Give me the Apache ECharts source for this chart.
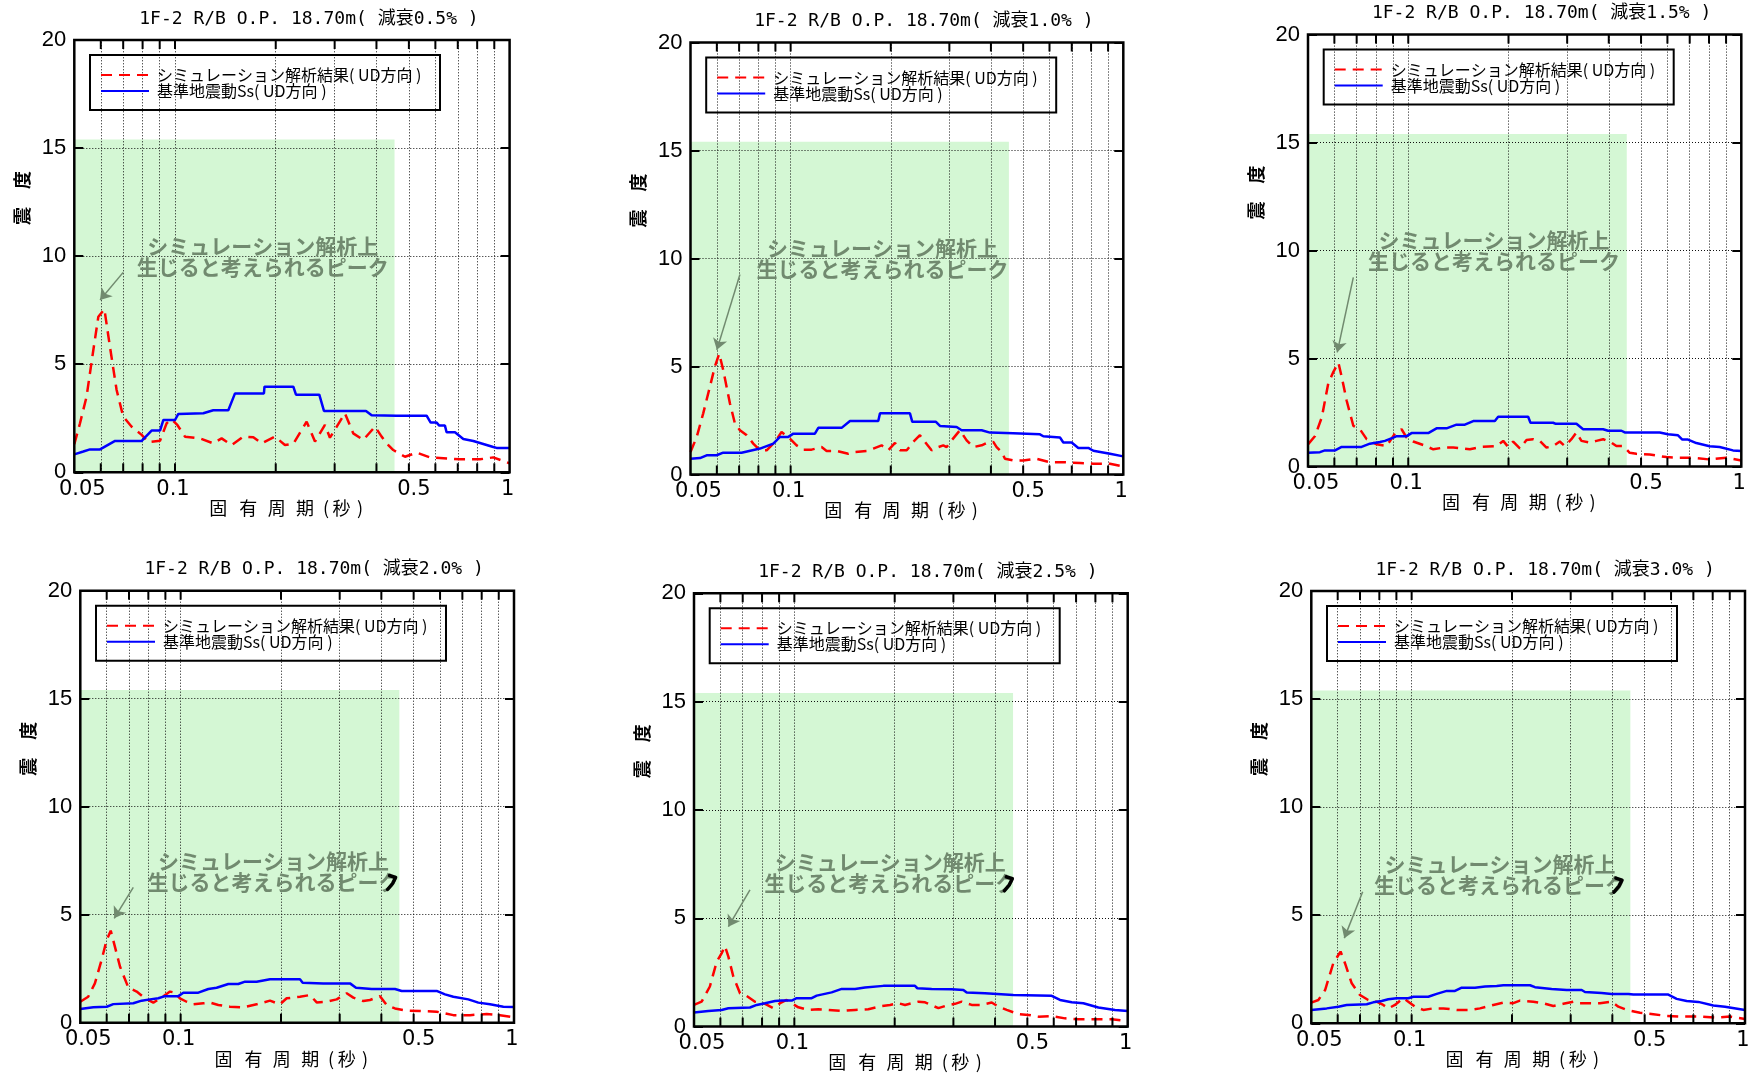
<!DOCTYPE html>
<html><head><meta charset="utf-8">
<script src="https://cdn.jsdelivr.net/npm/echarts@6/dist/echarts.min.js"></script>
<style>html,body{margin:0;padding:0;background:#fff}#c{width:1749px;height:1075px}</style>
</head><body><div id="c"></div>
<script>
// ---------------- data ----------------
const dampings = ['0.5', '1.0', '1.5', '2.0', '2.5', '3.0'];
const simName = 'シミュレーション解析結果( UD方向 )';
const ssName = '基準地震動Ss( UD方向 )';
const xTickLabels = [0.05, 0.1, 0.5, 1];
const xTickLabelText = ['0.05', '0.1', '0.5', '1'];
const xGridTicks = [0.06, 0.07, 0.08, 0.09, 0.1, 0.2, 0.3, 0.4, 0.5, 0.6, 0.7, 0.8, 0.9];
const yGridTicks = [5, 10, 15];
const greenBandPeriod = [0.05, 0.453];
const greenBandTop = 15.4;

const sim05 = [[0.05,1.3],[0.052,2.27],[0.0544,3.5],[0.057,5.66],[0.059,7.2],[0.0615,7.55],[0.0639,5.81],[0.0669,3.81],[0.070,2.58],[0.0742,2.11],[0.0795,1.73],[0.0832,1.40],[0.0902,1.46],[0.0944,2.27],[0.0977,2.45],[0.1016,2.19],[0.1071,1.65],[0.1187,1.57],[0.1301,1.34],[0.1378,1.57],[0.1476,1.26],[0.16,1.65],[0.1714,1.62],[0.1815,1.34],[0.1989,1.65],[0.2131,1.26],[0.2257,1.32],[0.2474,2.34],[0.262,1.42],[0.2806,2.19],[0.2904,1.6],[0.322,2.73],[0.3409,1.8],[0.3654,1.5],[0.396,2.11],[0.4145,1.65],[0.434,1.26],[0.4492,1.03],[0.4867,0.72],[0.5275,0.91],[0.5781,0.69],[0.7107,0.6],[0.8153,0.6],[0.8937,0.69],[1.0,0.42]];
const ss05 = [[0.05,0.83],[0.0532,0.96],[0.0557,1.06],[0.0597,1.06],[0.0662,1.45],[0.0795,1.45],[0.0851,1.93],[0.0902,1.93],[0.0923,2.42],[0.100,2.42],[0.1023,2.70],[0.1215,2.73],[0.1301,2.87],[0.1443,2.87],[0.1511,3.65],[0.1844,3.65],[0.1851,3.96],[0.2257,3.96],[0.2299,3.59],[0.2699,3.59],[0.2787,2.84],[0.3722,2.84],[0.3870,2.64],[0.4596,2.62],[0.5649,2.62],[0.5808,2.30],[0.6052,2.30],[0.6163,2.16],[0.6408,2.16],[0.6482,1.85],[0.6866,1.85],[0.7272,1.54],[0.7791,1.45],[0.8937,1.17],[0.9145,1.13],[1.0,1.13]];

const sim10 = [[0.05,1.04],[0.0522,1.74],[0.0546,2.83],[0.0572,4.07],[0.0592,5.0],[0.061,5.59],[0.0627,4.84],[0.0657,3.29],[0.068,2.36],[0.0704,2.05],[0.0738,1.82],[0.0772,1.43],[0.0809,1.12],[0.0847,1.12],[0.0897,1.51],[0.0939,1.97],[0.0995,1.66],[0.1042,1.35],[0.1092,1.15],[0.1156,1.15],[0.1239,1.27],[0.1283,1.09],[0.1375,1.09],[0.149,0.96],[0.1561,1.04],[0.1693,1.09],[0.1772,1.2],[0.1877,1.35],[0.1966,1.12],[0.2059,1.46],[0.2132,1.12],[0.2233,1.12],[0.2337,1.51],[0.2447,1.82],[0.2533,1.51],[0.2653,1.12],[0.2779,1.27],[0.2876,1.35],[0.2944,1.27],[0.3048,1.58],[0.3228,2.05],[0.3381,1.58],[0.354,1.27],[0.3752,1.35],[0.3883,1.46],[0.4066,1.51],[0.4161,1.27],[0.4308,1.04],[0.4408,0.73],[0.467,0.65],[0.5003,0.65],[0.5489,0.73],[0.602,0.57],[0.6602,0.57],[0.741,0.53],[0.8124,0.5],[0.9118,0.5],[1.0,0.37]];
const ss10 = [[0.05,0.73],[0.0534,0.76],[0.0559,0.89],[0.0599,0.89],[0.0627,1.01],[0.0712,1.01],[0.0809,1.2],[0.0887,1.43],[0.0929,1.74],[0.0984,1.74],[0.1019,1.89],[0.1183,1.89],[0.1211,2.16],[0.1423,2.16],[0.1508,2.48],[0.1834,2.48],[0.1856,2.83],[0.2284,2.83],[0.2321,2.44],[0.2734,2.44],[0.2811,2.25],[0.3155,2.2],[0.3266,2.05],[0.3752,2.05],[0.3974,1.94],[0.467,1.91],[0.5617,1.86],[0.5748,1.77],[0.6452,1.71],[0.6602,1.48],[0.6995,1.48],[0.7324,1.23],[0.785,1.23],[0.8124,1.1],[0.9118,0.96],[1.0,0.84]];

const sim15 = [[0.05,1.03],[0.0525,1.42],[0.055,2.28],[0.0575,3.84],[0.0596,4.39],[0.0617,4.81],[0.0631,4.16],[0.0653,3.06],[0.0684,1.89],[0.0716,1.73],[0.075,1.27],[0.0804,1.03],[0.0861,0.95],[0.0912,1.53],[0.0955,1.73],[0.0989,1.34],[0.1035,1.16],[0.1109,1.0],[0.1189,0.8],[0.1274,0.88],[0.1365,0.88],[0.1531,0.8],[0.166,0.91],[0.1841,0.95],[0.1928,1.19],[0.1995,0.91],[0.2065,1.16],[0.2163,0.84],[0.2265,1.23],[0.2371,1.27],[0.2483,1.19],[0.26,0.88],[0.2723,0.95],[0.2851,1.16],[0.2951,0.95],[0.309,1.27],[0.3199,1.58],[0.3311,1.19],[0.3508,1.11],[0.3673,1.19],[0.3846,1.27],[0.4074,1.11],[0.4217,0.95],[0.4416,0.95],[0.4624,0.64],[0.4842,0.59],[0.5309,0.56],[0.5957,0.44],[0.6531,0.41],[0.7161,0.41],[0.8035,0.33],[0.9016,0.41],[1.0,0.28]];
const ss15 = [[0.05,0.64],[0.0543,0.67],[0.0562,0.75],[0.0603,0.75],[0.0631,0.91],[0.0724,0.91],[0.0767,1.06],[0.0822,1.14],[0.0851,1.19],[0.0902,1.34],[0.0923,1.41],[0.0989,1.41],[0.1023,1.55],[0.1148,1.55],[0.1216,1.77],[0.1303,1.77],[0.1396,1.94],[0.1479,1.94],[0.1567,2.11],[0.182,2.11],[0.1862,2.31],[0.2291,2.31],[0.2328,2.03],[0.2723,2.03],[0.2773,1.98],[0.3199,1.98],[0.335,1.73],[0.3846,1.73],[0.3981,1.66],[0.4365,1.66],[0.4467,1.58],[0.5689,1.58],[0.6026,1.5],[0.6457,1.45],[0.6653,1.25],[0.6918,1.25],[0.7328,1.09],[0.8035,0.94],[0.861,0.91],[0.9441,0.75],[1.0,0.72]];

const sim20 = [[0.05,0.97],[0.0528,1.2],[0.0553,1.82],[0.0579,2.9],[0.06,3.83],[0.0617,4.26],[0.0635,3.52],[0.0658,2.59],[0.0697,1.62],[0.0738,1.44],[0.0782,1.13],[0.0828,0.93],[0.0877,1.17],[0.0929,1.44],[0.0961,1.39],[0.0995,1.13],[0.1042,0.97],[0.1091,0.85],[0.1169,0.9],[0.1225,0.93],[0.1297,0.82],[0.1406,0.74],[0.1542,0.71],[0.169,0.85],[0.1854,1.02],[0.1986,0.85],[0.208,1.13],[0.228,1.2],[0.2443,1.28],[0.2559,0.94],[0.2742,0.97],[0.2938,1.08],[0.3148,1.36],[0.3296,1.16],[0.3532,1.0],[0.3698,1.05],[0.3963,1.23],[0.415,0.82],[0.4395,0.66],[0.4764,0.56],[0.5224,0.54],[0.5861,0.51],[0.6577,0.35],[0.7379,0.35],[0.8279,0.4],[0.9078,0.35],[1.0,0.25]];
const ss20 = [[0.05,0.63],[0.0547,0.71],[0.06,0.74],[0.0628,0.86],[0.0721,0.9],[0.0764,1.02],[0.0809,1.08],[0.0857,1.13],[0.0897,1.23],[0.0984,1.23],[0.1019,1.39],[0.113,1.39],[0.1211,1.56],[0.1282,1.62],[0.139,1.79],[0.1489,1.79],[0.156,1.9],[0.169,1.9],[0.1854,2.01],[0.228,2.01],[0.2323,1.85],[0.2679,1.82],[0.3221,1.82],[0.3357,1.62],[0.3741,1.56],[0.4395,1.56],[0.4603,1.47],[0.5861,1.47],[0.6209,1.31],[0.6577,1.2],[0.7295,1.08],[0.7816,0.93],[0.8472,0.85],[0.929,0.74],[1.0,0.73]];

const sim25 = [[0.05,1.0],[0.0527,1.15],[0.0558,1.85],[0.0585,3.0],[0.0605,3.38],[0.0619,3.72],[0.0634,3.23],[0.0656,2.31],[0.0687,1.54],[0.0719,1.42],[0.0762,1.15],[0.0817,1.05],[0.0865,0.85],[0.0906,1.08],[0.0948,1.23],[0.0982,1.08],[0.1028,0.89],[0.1102,0.77],[0.118,0.8],[0.1265,0.77],[0.1387,0.72],[0.1521,0.77],[0.1667,0.8],[0.1828,0.95],[0.1936,1.0],[0.2051,1.08],[0.2148,1.0],[0.2355,1.15],[0.2466,1.12],[0.2704,0.85],[0.2897,1.0],[0.3034,1.05],[0.3177,1.15],[0.3404,1.0],[0.3648,1.0],[0.3908,1.11],[0.4093,0.92],[0.4335,0.77],[0.4699,0.58],[0.5035,0.54],[0.5395,0.46],[0.5916,0.49],[0.6486,0.38],[0.7112,0.34],[0.798,0.34],[0.8954,0.34],[1.0,0.26]];
const ss25 = [[0.05,0.65],[0.0552,0.72],[0.0605,0.77],[0.0634,0.85],[0.0736,0.88],[0.0771,1.0],[0.0817,1.08],[0.0875,1.18],[0.0916,1.2],[0.0982,1.2],[0.1016,1.31],[0.1127,1.31],[0.1167,1.43],[0.1294,1.58],[0.1387,1.74],[0.1521,1.74],[0.1629,1.8],[0.1849,1.88],[0.2301,1.88],[0.2339,1.77],[0.2582,1.74],[0.2965,1.72],[0.3214,1.69],[0.3289,1.57],[0.3733,1.54],[0.4539,1.46],[0.5916,1.42],[0.6266,1.23],[0.6792,1.12],[0.7362,1.08],[0.8166,0.88],[0.9162,0.77],[1.0,0.72]];

const sim30 = [[0.05,0.96],[0.0525,1.08],[0.055,1.54],[0.0582,2.78],[0.0603,3.16],[0.0612,3.32],[0.0631,2.78],[0.0661,1.85],[0.07,1.31],[0.0741,1.08],[0.0785,1.0],[0.0822,0.85],[0.0851,0.69],[0.0891,0.85],[0.0944,1.16],[0.0977,1.0],[0.1023,0.77],[0.1084,0.62],[0.1161,0.69],[0.1245,0.69],[0.1365,0.62],[0.1496,0.62],[0.1603,0.69],[0.1758,0.85],[0.1884,0.96],[0.2018,0.93],[0.2113,1.05],[0.2317,1.0],[0.2483,0.93],[0.2661,0.8],[0.2851,0.9],[0.3055,1.0],[0.3199,0.93],[0.3428,0.93],[0.3673,0.93],[0.3981,1.0],[0.4169,0.77],[0.4416,0.62],[0.4842,0.49],[0.5309,0.42],[0.5821,0.34],[0.6531,0.31],[0.7328,0.31],[0.8222,0.26],[0.9016,0.31],[1.0,0.2]];
const ss30 = [[0.05,0.62],[0.0556,0.69],[0.0603,0.77],[0.0638,0.85],[0.0733,0.88],[0.0767,0.97],[0.0813,1.03],[0.0851,1.11],[0.0902,1.16],[0.0977,1.16],[0.1012,1.23],[0.1122,1.23],[0.1189,1.36],[0.1274,1.5],[0.1349,1.5],[0.1413,1.65],[0.1549,1.65],[0.166,1.7],[0.1799,1.73],[0.1884,1.76],[0.2265,1.76],[0.2344,1.67],[0.263,1.59],[0.2917,1.54],[0.3236,1.54],[0.3311,1.45],[0.3715,1.4],[0.3981,1.36],[0.4467,1.36],[0.4624,1.33],[0.5888,1.33],[0.6237,1.13],[0.6683,1.03],[0.7244,0.99],[0.8035,0.82],[0.871,0.77],[1.0,0.62]];

const simSeries = [sim05, sim10, sim15, sim20, sim25, sim30];
const ssSeries = [ss05, ss10, ss15, ss20, ss25, ss30];

// annotation anchors in data coordinates (period, value)
const noteCenters = [[0.183,10.0],[0.189,10.0],[0.181,10.0],[0.19,7.0],[0.194,7.1],[0.184,6.9]];
const arrowTails = [[0.0700,9.25],[0.0704,9.26],[0.0684,8.76],[0.0721,6.27],[0.0736,6.31],[0.0713,6.09]];
const arrowTips  = [[0.0597,7.97],[0.0600,5.77],[0.0612,5.29],[0.0632,4.83],[0.0634,4.61],[0.0628,3.94]];
const noteInkMark = [false, false, false, true, true, true];

// ---------------- layout ----------------
const panelRects = [
  [74.3, 40, 435.3, 432.3],
  [690.5, 42.5, 432.8, 432],
  [1308, 34.6, 433.3, 432],
  [80.3, 590.7, 433.7, 432],
  [694, 593.3, 433.7, 433.3],
  [1311.3, 591, 433.7, 432.3]
];
const xNameGlyphs = ['固', '有', '周', '期', '(', '秒', ')'];
const xNameDx = [-73.7, -43.7, -15.3, 13, 34, 49.5, 68];
const xLabelDx = [8, -2, 5, -2];
const CJK = '"Noto Sans CJK JP", "Noto Sans CJK SC", sans-serif';
const NUM = '"Liberation Sans", Arial, sans-serif';
const RED = '#ff0000', BLUE = '#0000ff', NOTE = '#718a6f';

const option = {
  animation: false,
  backgroundColor: '#fff',
  textStyle: { fontFamily: CJK },
  grid: [], xAxis: [], yAxis: [], series: [], legend: []
};

panelRects.forEach((r, i) => {
  const [L, T, W, H] = r;
  option.grid.push({ left: L, top: T, width: W, height: H, show: false, containLabel: false });
  option.xAxis.push({
    type: 'log', logBase: 10, gridIndex: i, min: 0.05, max: 1,
    axisLine: { show: false }, axisTick: { show: false }, axisLabel: { show: false },
    splitLine: { show: false }, minorTick: { show: false }, minorSplitLine: { show: false }
  });
  const yBase = {
    type: 'value', gridIndex: i, min: 0, max: 20, interval: 5, z: 5,
    axisLine: { show: false }, splitLine: { show: false },
    axisTick: { show: true, inside: true, length: 9, lineStyle: { color: '#000', width: 2 } }
  };
  option.yAxis.push(Object.assign({}, yBase, {
    position: 'left',
    axisLabel: { show: true, fontSize: 22, color: '#000', margin: 8, fontFamily: NUM }
  }));
  option.yAxis.push(Object.assign({}, yBase, { position: 'right', axisLabel: { show: false } }));

  // background: green band + dotted grid
  option.series.push({
    type: 'line', name: 'bg' + i, xAxisIndex: i, yAxisIndex: 2 * i, data: [], silent: true,
    markArea: {
      silent: true, z: 0,
      itemStyle: { color: '#d4f7d4' },
      data: [[{ xAxis: greenBandPeriod[0], yAxis: 0 }, { xAxis: greenBandPeriod[1], yAxis: greenBandTop }]]
    },
    markLine: {
      silent: true, z: 1, symbol: ['none', 'none'], label: { show: false },
      lineStyle: { type: [1, 2], color: '#111', width: 1 },
      emphasis: { disabled: true },
      data: xGridTicks.map(v => ({ xAxis: v })).concat(yGridTicks.map(v => ({ yAxis: v })))
    }
  });
  option.series.push({
    type: 'line', name: simName, xAxisIndex: i, yAxisIndex: 2 * i, z: 3,
    data: simSeries[i], symbol: 'none', showSymbol: false,
    lineStyle: { color: RED, width: 2.5, type: [11, 7] }, itemStyle: { color: RED },
    markLine: {
      silent: true, z: 6, symbol: ['none', 'arrow'], symbolSize: 11,
      label: { show: false },
      lineStyle: { type: 'solid', color: NOTE, width: 1.5 },
      itemStyle: { color: NOTE },
      data: [[{ coord: arrowTails[i] }, { coord: arrowTips[i] }]]
    }
  });
  option.series.push({
    type: 'line', name: ssName, xAxisIndex: i, yAxisIndex: 2 * i, z: 3,
    data: ssSeries[i], symbol: 'none', showSymbol: false,
    lineStyle: { color: BLUE, width: 2.5, type: 'solid' }, itemStyle: { color: BLUE }
  });
  option.legend.push({
    data: [simName, ssName], orient: 'vertical', left: L + 25.7, top: T + 27,
    padding: 0, itemGap: 0, itemWidth: 48, itemHeight: 14, selectedMode: false,
    itemStyle: { opacity: 0, borderWidth: 0 },
    lineStyle: { width: 2 },
    textStyle: { fontSize: 16, lineHeight: 16, color: '#000', fontFamily: CJK, padding: [0, 0, 0, 3] }
  });
});

const chart = echarts.init(document.getElementById('c'), null, { renderer: 'canvas' });
chart.setOption(option);

function txt(x, y, text, font, extra) {
  return Object.assign({
    type: 'text', silent: true, z: 100, x: x, y: y,
    style: Object.assign({ text: text, font: font, fill: '#000', align: 'center', verticalAlign: 'middle',
      textAlign: 'center', textVerticalAlign: 'middle' }, (extra && extra.style) || {})
  }, (extra && extra.el) || {});
}

const g = [];
panelRects.forEach((r, i) => {
  const [L, T, W, H] = r; const B = T + H;
  // frame
  g.push({ type: 'rect', silent: true, z: 100, shape: { x: L, y: T, width: W, height: H },
    style: { fill: 'rgba(0,0,0,0)', stroke: '#000', lineWidth: 2.5 } });
  // legend box
  g.push({ type: 'rect', silent: true, z: 100, shape: { x: L + 15.7, y: T + 15, width: 350, height: 55 },
    style: { fill: 'rgba(0,0,0,0)', stroke: '#000', lineWidth: 2 } });
  // title
  g.push(txt(L + W / 2 + 17, T - 21, '1F-2 R/B O.P. 18.70m( 減衰' + dampings[i] + '% )',
    '18px "DejaVu Sans Mono", "Noto Sans CJK JP", monospace'));
  // y-axis name (reads bottom to top)
  g.push(txt(L - 52, T + 158, '震　度', 'bold 18px ' + CJK, { el: { rotation: Math.PI / 2 } }));
  // x-axis name, glyph by glyph to keep the wide spacing
  xNameGlyphs.forEach((ch, k) => {
    g.push(txt(L + W / 2 + xNameDx[k], B + 36, ch, '18px ' + CJK));
  });
  // x ticks (top and bottom, inward)
  xGridTicks.forEach(v => {
    const px = chart.convertToPixel({ gridIndex: i }, [v, 0])[0];
    g.push({ type: 'line', silent: true, z: 100, shape: { x1: px, y1: B, x2: px, y2: B - 9 }, style: { stroke: '#000', lineWidth: 2 } });
    g.push({ type: 'line', silent: true, z: 100, shape: { x1: px, y1: T, x2: px, y2: T + 9 }, style: { stroke: '#000', lineWidth: 2 } });
  });
  // x tick labels
  xTickLabels.forEach((v, k) => {
    const px = chart.convertToPixel({ gridIndex: i }, [v, 0])[0];
    g.push(txt(px + xLabelDx[k], B + 17, xTickLabelText[k], '21px "DejaVu Sans", sans-serif'));
  });
  // annotation text
  const np = chart.convertToPixel({ gridIndex: i }, noteCenters[i]);
  g.push(txt(np[0], np[1], 'シミュレーション解析上\n生じると考えられるピーク', 'bold 21px ' + CJK,
    { style: { fill: NOTE, lineHeight: 21 } }));
  if (noteInkMark[i]) {
    g.push({ type: 'polyline', silent: true, z: 101,
      shape: { points: [[np[0] + 116, np[1] + 4], [np[0] + 122, np[1] + 6], [np[0] + 119, np[1] + 12], [np[0] + 114, np[1] + 18]] },
      style: { stroke: '#000', lineWidth: 3.5, fill: null, lineCap: 'round', lineJoin: 'round' } });
  }
});
chart.setOption({ graphic: { elements: g } });
</script>
</body></html>
